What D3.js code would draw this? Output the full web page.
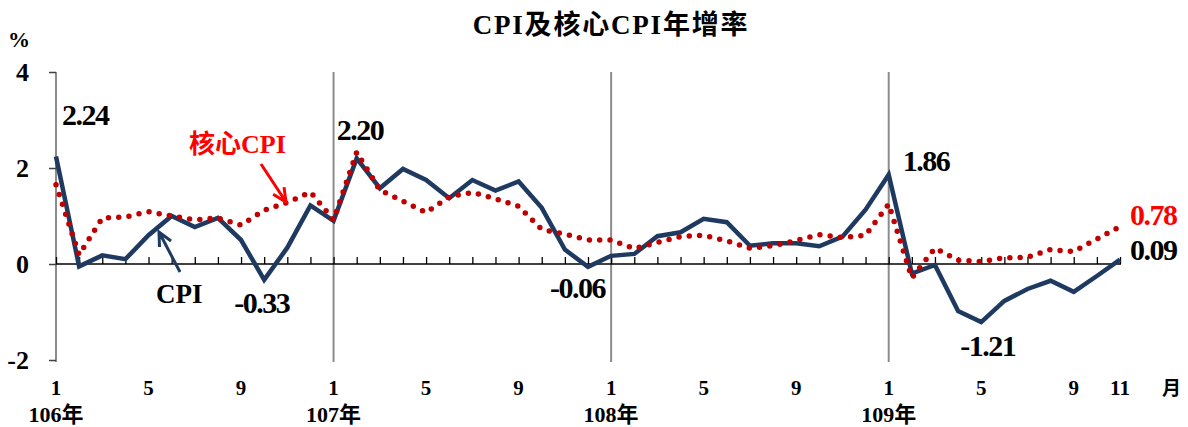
<!DOCTYPE html>
<html>
<head>
<meta charset="utf-8">
<script src="https://cdn.jsdelivr.net/npm/d3@7"></script>
<style>
  body { margin: 0; background: #fff; }
  text { font-family: "Liberation Serif", "Noto Sans CJK TC", serif; font-weight: bold; }
</style>
</head>
<body>
<svg id="chart" width="1188" height="427"></svg>
<script>
// CPI and core CPI year-on-year growth, 106/1 .. 109/11
var cpi = [2.24, -0.05, 0.18, 0.10, 0.60, 1.00, 0.77, 0.96, 0.50, -0.33, 0.34, 1.22,
           0.90, 2.20, 1.58, 1.98, 1.75, 1.37, 1.75, 1.53, 1.72, 1.17, 0.30, -0.06,
           0.17, 0.21, 0.58, 0.66, 0.94, 0.87, 0.38, 0.43, 0.43, 0.37, 0.57, 1.13,
           1.86, -0.20, -0.02, -0.98, -1.21, -0.77, -0.52, -0.35, -0.58, -0.25, 0.09];
var coreCpi = [1.65, 0.19, 0.96, 0.98, 1.09, 1.00, 0.92, 0.96, 0.81, 1.12, 1.28, 1.50,
               0.92, 2.33, 1.54, 1.31, 1.07, 1.40, 1.49, 1.36, 1.20, 0.72, 0.62, 0.50,
               0.50, 0.32, 0.45, 0.57, 0.60, 0.48, 0.33, 0.38, 0.49, 0.61, 0.55, 0.60,
               1.25, -0.29, 0.33, 0.08, 0.05, 0.13, 0.14, 0.30, 0.26, 0.52, 0.78];
var monthTicks = [0, 4, 8, 12, 16, 20, 24, 28, 32, 36, 40, 44, 46];
var monthLabels = ["1", "5", "9", "1", "5", "9", "1", "5", "9", "1", "5", "9", "11"];
var yearTicks = [0, 12, 24, 36];
var yearLabels = ["106年", "107年", "108年", "109年"];
var yTicks = [4, 2, 0, -2];
// labelled points: index, value shown, series
var callouts = [
    {i: 0, txt: "2.24", dx: 6, y: 125, c: "#000"},
    {i: 13, txt: "2.20", dx: -20, y: 140, c: "#000"},
    {i: 36, txt: "1.86", dx: 14, y: 171, c: "#000"},
    {i: 9, txt: "-0.33", dx: -30, y: 313, c: "#000"},
    {i: 23, txt: "-0.06", dx: -38, y: 298, c: "#000"},
    {i: 40, txt: "-1.21", dx: -21, y: 356, c: "#000"},
    {i: 46, txt: "0.78", dx: 10, y: 225, c: "#ff0000"},
    {i: 46, txt: "0.09", dx: 10, y: 260, c: "#000"}
];

var svg = d3.select("#chart");
var x = d3.scaleLinear().domain([0, 46]).range([56, 1120]);
var y = d3.scaleLinear().domain([-2, 4]).range([360, 72]);

svg.append("text")
    .attr("x", 611).attr("y", 34)
    .attr("text-anchor", "middle")
    .style("font-size", "27px")
    .style("letter-spacing", "1.8px")
    .text("CPI及核心CPI年增率");

svg.append("text").attr("x", 8).attr("y", 47).style("font-size", "22px").text("%");

// year divider lines (first one doubles as y axis)
svg.selectAll(".yearline").data(yearTicks).enter()
    .append("line")
    .attr("x1", function (d) { return x(d); })
    .attr("x2", function (d) { return x(d); })
    .attr("y1", y(4)).attr("y2", y(-2) + 2)
    .attr("stroke", "#8c8c8c").attr("stroke-width", 2);

// y axis ticks + labels
var yAxis = d3.axisLeft(y).tickValues(yTicks).tickSize(7).tickPadding(20)
    .tickFormat(function (d) { return String(d); });
var ya = svg.append("g").attr("transform", "translate(56,0)").call(yAxis);
ya.select(".domain").remove();
ya.selectAll("line").attr("stroke", "#404040").attr("stroke-width", 1.5);
ya.selectAll("text").style("font-size", "26px").attr("fill", "#000")
    .attr("font-family", null);

// zero axis with month ticks pointing up
var xAxis = d3.axisTop(x).tickValues(d3.range(0, 47)).tickSize(7).tickFormat("");
var xa = svg.append("g").attr("transform", "translate(0," + y(0) + ")").call(xAxis);
xa.select(".domain").attr("stroke", "#000").attr("stroke-width", 1.5).attr("d", "M56,0H1121");
xa.selectAll("line").attr("stroke", "#000").attr("stroke-width", 1.3);

svg.selectAll(".mlab").data(monthTicks).enter()
    .append("text")
    .attr("x", function (d) { return x(d); })
    .attr("y", 395)
    .attr("text-anchor", "middle")
    .style("font-size", "21px")
    .text(function (d, i) { return monthLabels[i]; });

svg.append("text").attr("x", 1162).attr("y", 395).style("font-size", "19px").text("月");

svg.selectAll(".ylab").data(yearTicks).enter()
    .append("text")
    .attr("x", function (d) { return x(d); })
    .attr("y", 422)
    .attr("text-anchor", "middle")
    .style("font-size", "22px")
    .text(function (d, i) { return yearLabels[i]; });

var line = d3.line()
    .x(function (d, i) { return x(i); })
    .y(function (d) { return y(d); });

svg.append("path")
    .datum(cpi)
    .attr("d", line)
    .attr("fill", "none")
    .attr("stroke", "#1f3a60")
    .attr("stroke-width", 4.5)
    .attr("stroke-linejoin", "miter");

svg.append("path")
    .datum(coreCpi)
    .attr("d", line)
    .attr("fill", "none")
    .attr("stroke", "#c00000")
    .attr("stroke-width", 5.5)
    .attr("stroke-linecap", "round")
    .attr("stroke-dasharray", "0,10.3");

svg.selectAll(".callout").data(callouts).enter()
    .append("text")
    .attr("x", function (d) { return x(d.i) + d.dx; })
    .attr("y", function (d) { return d.y; })
    .attr("fill", function (d) { return d.c; })
    .style("font-size", "30px")
    .style("letter-spacing", "-1.5px")
    .text(function (d) { return d.txt; });

// series name tags with arrows
svg.append("text").attr("x", 189).attr("y", 153).attr("fill", "#ff0000")
    .style("font-size", "26px").text("核心CPI");
svg.append("text").attr("x", 156).attr("y", 303).attr("fill", "#000")
    .style("font-size", "27px").text("CPI");

function arrow(x1, y1, x2, y2, color) {
    var a = Math.atan2(y2 - y1, x2 - x1), h = 15, s = 0.45;
    svg.append("path")
        .attr("d", "M" + x1 + "," + y1 + "L" + x2 + "," + y2 +
            "M" + (x2 - h * Math.cos(a - s)) + "," + (y2 - h * Math.sin(a - s)) +
            "L" + x2 + "," + y2 +
            "L" + (x2 - h * Math.cos(a + s)) + "," + (y2 - h * Math.sin(a + s)))
        .attr("fill", "none")
        .attr("stroke", color)
        .attr("stroke-width", 3);
}
arrow(261, 164, 286, 202, "#ff0000");
arrow(180, 272, 159, 232, "#1f3a60");
</script>
</body>
</html>
